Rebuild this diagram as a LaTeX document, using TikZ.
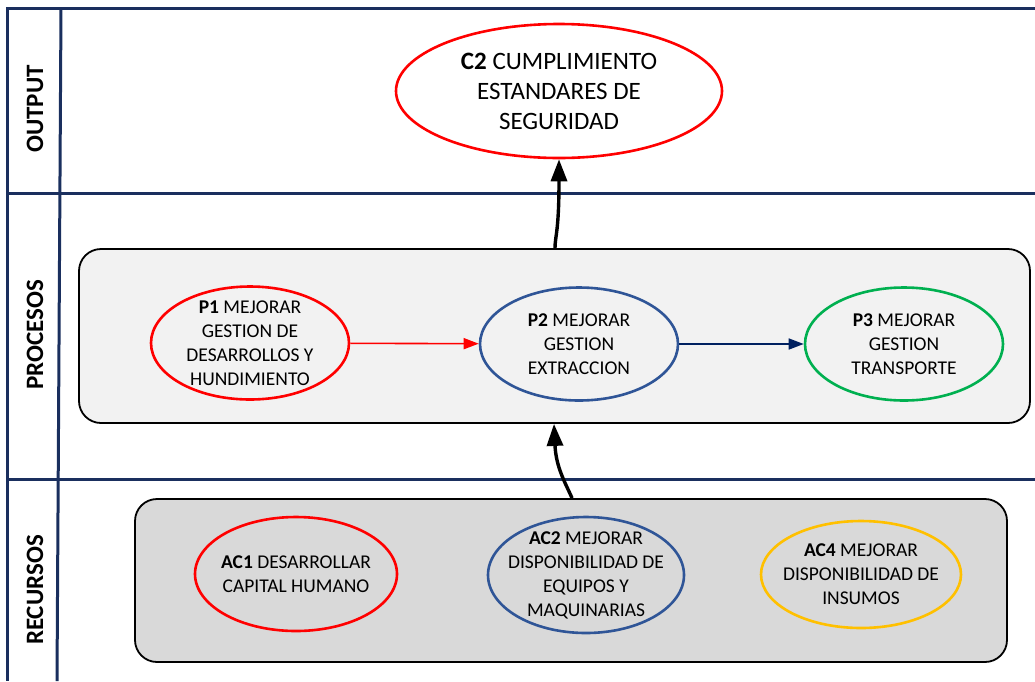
\documentclass[tikz,border=0pt]{standalone}
\usepackage{fontspec}
\setmainfont{Carlito}
\usetikzlibrary{shapes.geometric,arrows.meta}
\definecolor{lanenavy}{HTML}{1A2F5E}
\definecolor{ovred}{HTML}{FF0000}
\definecolor{ovblue}{HTML}{2F5597}
\definecolor{ovgreen}{HTML}{00B050}
\definecolor{ovgold}{HTML}{FFC000}
\definecolor{arrnavy}{HTML}{002060}
\definecolor{procfill}{HTML}{F2F2F2}
\definecolor{recfill}{HTML}{D9D9D9}
\tikzset{
  lane/.style={draw=lanenavy, line width=3pt},
  lanelabel/.style={rotate=90, font=\fontsize{25}{30}\selectfont\bfseries, inner sep=0pt},
  groupbox/.style={draw=black, line width=1.8pt, rounded corners=22pt},
  oval/.style={ellipse, line width=2.6pt, inner xsep=-30pt, inner ysep=-30pt, align=center,
    font=\fontsize{19.5}{24}\selectfont},
  flow/.style={line width=1.6pt, -{Triangle[length=15pt,width=11pt]}},
  bigflow/.style={line width=3.4pt, -{Triangle[length=22pt,width=16pt]}}
}
\begin{document}
\begin{tikzpicture}[x=1pt,y=-1pt]
\useasboundingbox (0,0) rectangle (1035,681);

% swimlane frame
\draw[lane] (1035,8) -- (7,8) -- (7,681);
\draw[lane] (61,8) -- (57,681);
\draw[lane] (7,193) -- (1035,193);
\draw[lane] (7,479) -- (1035,479);

\node[lanelabel] (lout) at (35,109) {OUTPUT};
\node[lanelabel] (lproc) at (35,335) {PROCESOS};
\node[lanelabel] (lrec) at (35,590) {RECURSOS};

% group boxes
\node[groupbox, fill=procfill, minimum width=951pt, minimum height=174pt] (procbox) at (554.5,336) {};
\node[groupbox, fill=recfill, minimum width=872pt, minimum height=163pt] (recbox) at (571,580.5) {};

% output
\node[oval, draw=ovred, minimum width=326pt, minimum height=134pt,
  font=\fontsize{25}{30}\selectfont] (c2) at (559,91)
  {\textbf{C2} CUMPLIMIENTO\\ESTANDARES DE\\SEGURIDAD};

% processes
\node[oval, draw=ovred, minimum width=198pt, minimum height=113pt] (p1) at (250,343)
  {\textbf{P1} MEJORAR\\GESTION DE\\DESARROLLOS Y\\HUNDIMIENTO};
\node[oval, draw=ovblue, minimum width=198pt, minimum height=113pt] (p2) at (579,344)
  {\textbf{P2} MEJORAR\\GESTION\\EXTRACCION};
\node[oval, draw=ovgreen, minimum width=198pt, minimum height=113pt] (p3) at (904,344)
  {\textbf{P3} MEJORAR\\GESTION\\TRANSPORTE};

% resources
\node[oval, draw=ovred, minimum width=202pt, minimum height=114pt] (ac1) at (296,574)
  {\textbf{AC1} DESARROLLAR\\CAPITAL HUMANO};
\node[oval, draw=ovblue, minimum width=196pt, minimum height=116pt] (ac2) at (586,575)
  {\textbf{AC2} MEJORAR\\DISPONIBILIDAD DE\\EQUIPOS Y\\MAQUINARIAS};
\node[oval, draw=ovgold, minimum width=200pt, minimum height=107pt] (ac4) at (861,574.5)
  {\textbf{AC4} MEJORAR\\DISPONIBILIDAD DE\\INSUMOS};

% connectors
\draw[flow, ovred] (p1) -- (p2);
\draw[flow, arrnavy] (p2) -- (p3);
\draw[bigflow] (recbox.north -| 572,0) .. controls (566,484) and (556,468) .. (procbox.south -| 554,0);
\draw[bigflow] (procbox.north -| 555,0) .. controls (555,236) and (559,232) .. (c2.south);
\end{tikzpicture}
\end{document}
